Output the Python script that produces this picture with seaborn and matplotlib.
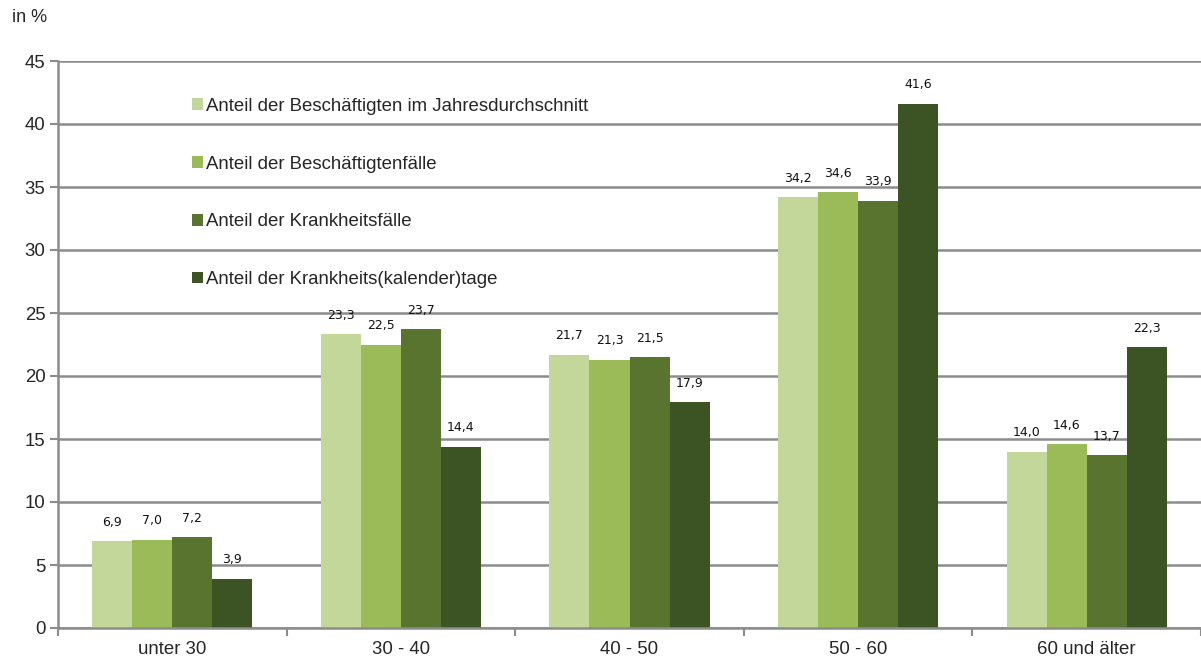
import pandas as pd
import seaborn as sns
import matplotlib.pyplot as plt
import numpy as np

# age groups and the four shares (in %)
groups = ["unter 30", "30 - 40", "40 - 50", "50 - 60", "60 und älter"]
series = ["Anteil der Beschäftigten im Jahresdurchschnitt",
          "Anteil der Beschäftigtenfälle",
          "Anteil der Krankheitsfälle",
          "Anteil der Krankheits(kalender)tage"]
besch_jd = [6.9, 23.3, 21.7, 34.2, 14.0]
besch_faelle = [7.0, 22.5, 21.3, 34.6, 14.6]
krank_faelle = [7.2, 23.7, 21.5, 33.9, 13.7]
krank_tage = [3.9, 14.4, 17.9, 41.6, 22.3]
colors = ["#C4D79B", "#9BBB59", "#58742F", "#3C5424"]

# long format for seaborn
rows = []
for name, vals in zip(series, [besch_jd, besch_faelle, krank_faelle, krank_tage]):
    for g, v in zip(groups, vals):
        rows.append({"Altersgruppe": g, "Serie": name, "Wert": v})
df = pd.DataFrame(rows)

sns.set_style("white")
plt.rcParams["font.family"] = ["Liberation Sans", "DejaVu Sans"]

fig = plt.figure(figsize=(12.01, 6.58), dpi=100)
ax = fig.add_axes([58 / 1201, 30 / 658, 1 - 58 / 1201, 567 / 658])

sns.barplot(data=df, x="Altersgruppe", y="Wert", hue="Serie", order=groups,
            hue_order=series, palette=colors, width=0.7, linewidth=0,
            saturation=1, ax=ax)

# value labels with comma decimals
for cont in ax.containers:
    labels = [f"{b.get_height():.1f}".replace(".", ",") for b in cont]
    ax.bar_label(cont, labels=labels, padding=9, fontsize=9,
                 family="DejaVu Sans", color="#111111")

ax.set_ylim(0, 45)
ax.set_xlim(-0.5, 4.5)
ax.set_yticks(np.arange(0, 46, 5))
ax.yaxis.grid(True, color="#8C8C8C", linewidth=1.8)
ax.set_axisbelow(True)
ax.set_xlabel("")
ax.set_ylabel("")

for s in ["top", "right"]:
    ax.spines[s].set_visible(False)
ax.spines["left"].set_color("#8C8C8C")
ax.spines["left"].set_linewidth(1.8)
ax.spines["bottom"].set_color("#8C8C8C")
ax.spines["bottom"].set_linewidth(1.8)

ax.tick_params(axis="y", labelsize=13.4, length=6, width=1.5, color="#8C8C8C",
               left=True, pad=3)
ax.tick_params(axis="x", which="major", labelsize=13.4, length=0, pad=9)
ax.set_xticks(np.arange(-0.5, 5, 1), minor=True)
ax.tick_params(axis="x", which="minor", length=6, width=1.5, color="#8C8C8C",
               bottom=True)

leg = ax.legend(loc="upper left", bbox_to_anchor=(0.103, 0.965), frameon=False,
                fontsize=13.4, handlelength=0.55, handleheight=0.55,
                handletextpad=0.15, labelspacing=2.2)

fig.text(12 / 1201, 1 - 18 / 658, "in %", fontsize=13, va="center", ha="left")

fig.savefig("out.png", dpi=100)
